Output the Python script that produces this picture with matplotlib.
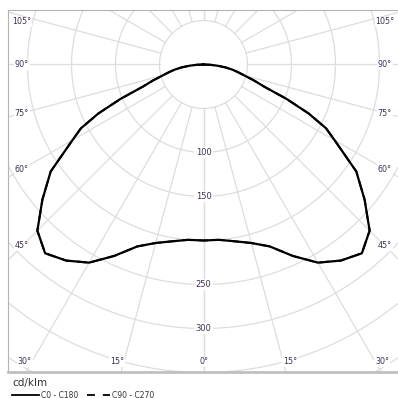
import numpy as np
import matplotlib.pyplot as plt
from matplotlib.lines import Line2D

# luminous intensity (cd/klm) against gamma angle
gamma = [0, 5, 10, 15, 20, 25, 30, 35, 40, 45, 50, 55, 60, 62.5, 65, 67.5,
         70, 72.5, 75, 77.5, 80, 82.5, 85, 87.5, 90, 180]
c0_c180 = [200, 200, 204, 210, 220, 240, 260, 272, 280, 267, 239, 212, 172, 157,
           132, 102, 73, 60, 48, 40, 33, 25, 16, 8, 0, 0]
c90_c270 = c0_c180

ring_values = [50, 100, 150, 200, 250, 300, 350, 400, 450]
ring_labels = [100, 150, 250, 300]
side_angles = [45, 60, 75, 90, 105]
bottom_angles = [0, 15, 30]

W = 398
SCALE = 0.88          # px per cd/klm
CX, CY = 203.5, 64.5  # pole position in px
GRID = '#dddddd'
TXT = '#3e3050'

fig = plt.figure(figsize=(W / 100, W / 100), dpi=100)
left, right, top, bottom = 8, 399, 10, 372
ax = fig.add_axes([left / W, 1 - bottom / W, (right - left) / W, (bottom - top) / W])
ax.set_xlim((left - CX) / SCALE, (right - CX) / SCALE)
ax.set_ylim(-(bottom - CY) / SCALE, (CY - top) / SCALE)
ax.set_xticks([])
ax.set_yticks([])
for s in ax.spines.values():
    s.set_color('#b4b4b4')
    s.set_linewidth(0.8)
ax.spines['bottom'].set_linewidth(2)
ax.spines['bottom'].set_color('#c0c0c0')

t = np.linspace(0, 2 * np.pi, 400)
for r in ring_values:
    ax.plot(r * np.cos(t), r * np.sin(t), color=GRID, lw=0.9, zorder=1)

for a in range(0, 181, 15):
    g = np.radians(a)
    for sgn in (-1, 1):
        ax.plot([sgn * 50 * np.sin(g), sgn * 600 * np.sin(g)],
                [-50 * np.cos(g), -600 * np.cos(g)], color=GRID, lw=0.9, zorder=1)

for r in ring_labels:
    ax.text(0, -r, str(r), ha='center', va='center', fontsize=6, color=TXT,
            bbox=dict(boxstyle='square,pad=0.15', fc='white', ec='none'), zorder=2)

# angle labels along the sides of the frame (kept a bit below the top edge)
xs = (CX - 22) / SCALE
y_max = (CY - 22) / SCALE
for a in side_angles:
    g = np.radians(a)
    y = min(-xs / np.tan(g), y_max)
    for sgn in (-1, 1):
        ax.text(sgn * xs, y, f'{a}°', ha='center', va='center', fontsize=5.8,
                color=TXT, bbox=dict(boxstyle='square,pad=0.1', fc='white', ec='none'),
                zorder=2)

ys = (362 - CY) / SCALE
for a in bottom_angles:
    g = np.radians(a)
    x = ys * np.tan(g)
    for sgn in (-1, 1):
        ha = 'center' if a == 0 else ('left' if sgn > 0 else 'right')
        ax.text(sgn * x, -ys, f'{a}°', ha=ha, va='center', fontsize=5.8,
                color=TXT, bbox=dict(boxstyle='square,pad=0.1', fc='white', ec='none'),
                zorder=2)

g = np.radians(gamma)
r0 = np.array(c0_c180)
r90 = np.array(c90_c270)
x0 = np.concatenate([-(r0 * np.sin(g))[::-1], (r0 * np.sin(g))[1:]])
y0 = np.concatenate([-(r0 * np.cos(g))[::-1], -(r0 * np.cos(g))[1:]])
x90 = np.concatenate([-(r90 * np.sin(g))[::-1], (r90 * np.sin(g))[1:]])
y90 = np.concatenate([-(r90 * np.cos(g))[::-1], -(r90 * np.cos(g))[1:]])
ax.plot(x90, y90, color='black', lw=1.4, ls=(0, (5, 3)), zorder=3)
ax.plot(x0, y0, color='black', lw=1.6, zorder=4, solid_joinstyle='round')

# legend below the frame
fig.text(12 / W, 1 - 383 / W, 'cd/klm', fontsize=7.5, color='#333333', va='center')
fig.add_artist(Line2D([12 / W, 39 / W], [1 - 395 / W] * 2, color='black', lw=1.3))
fig.text(41 / W, 1 - 395 / W, 'C0 - C180', fontsize=5.5, color='#333333', va='center')
fig.add_artist(Line2D([87 / W, 110 / W], [1 - 395 / W] * 2, color='black', lw=1.3,
                      ls=(0, (4.4, 4.4))))
fig.text(112 / W, 1 - 395 / W, 'C90 - C270', fontsize=5.5, color='#333333', va='center')

fig.savefig('out.png', dpi=100)
